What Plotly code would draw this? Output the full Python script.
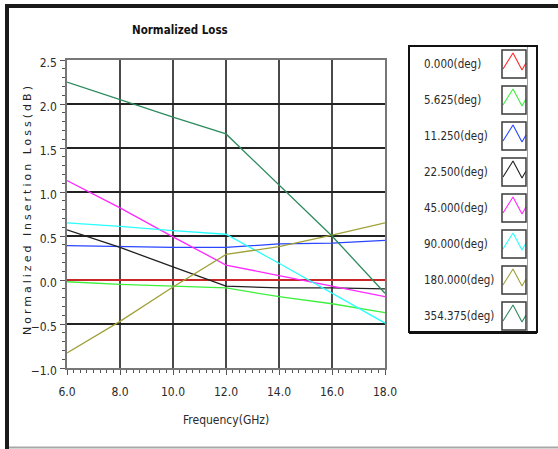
import plotly.graph_objects as go

# ---------------- data ----------------
freq_ghz = [6, 8, 10, 12, 14, 16, 18]

series_names = ["0.000(deg)", "5.625(deg)", "11.250(deg)", "22.500(deg)",
                "45.000(deg)", "90.000(deg)", "180.000(deg)", "354.375(deg)"]
series_colors = ["#ff2a2a", "#3cf03c", "#2846ff", "#202020",
                 "#ff28ff", "#28ffff", "#a0a038", "#2e8b5e"]

loss_0_000 = [0.00, 0.00, 0.00, 0.00, 0.00, 0.00, 0.00]
loss_5_625 = [-0.02, -0.05, -0.07, -0.09, -0.19, -0.27, -0.37]
loss_11_250 = [0.39, 0.38, 0.37, 0.37, 0.41, 0.42, 0.45]
loss_22_500 = [0.57, 0.37, 0.15, -0.07, -0.09, -0.09, -0.10]
loss_45_000 = [1.13, 0.82, 0.49, 0.17, 0.05, -0.07, -0.19]
loss_90_000 = [0.65, 0.61, 0.56, 0.52, 0.19, -0.15, -0.49]
loss_180_000 = [-0.83, -0.47, -0.08, 0.29, 0.38, 0.51, 0.65]
loss_354_375 = [2.25, 2.05, 1.85, 1.66, 1.08, 0.50, -0.15]

series_values = [loss_0_000, loss_5_625, loss_11_250, loss_22_500,
                 loss_45_000, loss_90_000, loss_180_000, loss_354_375]

x_tick_vals = [6, 8, 10, 12, 14, 16, 18]
y_tick_vals = [-1.0, -0.5, 0.0, 0.5, 1.0, 1.5, 2.0, 2.5]

# ---------------- layout constants ----------------
W, H = 558, 449
PX0, PX1 = 67, 385      # plot area left/right (px)
PY0, PY1 = 60, 368      # plot area top/bottom (px)
NARROW = "Liberation Sans Narrow, DejaVu Sans Condensed, Liberation Sans, Arial, sans-serif"
TXT = "#2a2a2a"

fig = go.Figure()

for name, vals, col in zip(series_names, series_values, series_colors):
    fig.add_trace(go.Scatter(x=freq_ghz, y=vals, mode="lines", name=name,
                             line=dict(color=col, width=1.3),
                             showlegend=False, hoverinfo="skip"))

# ---- custom legend drawn on a pixel overlay axis (x2/y2) ----
shapes = []
annotations = []
row0, row_step = 64, 36
for i, (name, col) in enumerate(zip(series_names, series_colors)):
    yc = row0 + row_step * i
    shapes.append(dict(type="rect", xref="x2", yref="y2", x0=502, x1=526,
                       y0=yc - 14, y1=yc + 14, line=dict(color="#3a3a3a", width=1.5),
                       fillcolor="rgba(0,0,0,0)"))
    fig.add_trace(go.Scatter(x=[503, 513, 522, 526],
                             y=[yc + 5, yc - 11, yc + 6, yc - 1],
                             mode="lines", line=dict(color=col, width=1.1),
                             xaxis="x2", yaxis="y2", showlegend=False,
                             hoverinfo="skip"))
    annotations.append(dict(xref="x2", yref="y2", x=422, y=yc, text=name,
                            showarrow=False, xanchor="left", yanchor="middle",
                            font=dict(family=NARROW, size=11.5, color=TXT)))

# legend frame
shapes += [
    dict(type="rect", xref="x2", yref="y2", x0=409, x1=537, y0=46, y1=332,
         line=dict(color="#111111", width=2)),
    dict(type="line", xref="x2", yref="y2", x0=409, x1=537, y0=332.5, y1=332.5,
         line=dict(color="#111111", width=3)),
    dict(type="line", xref="x2", yref="y2", x0=527.5, x1=527.5, y0=47, y1=331,
         line=dict(color="#9a9a9a", width=1)),
]
# outer window frame
shapes += [
    dict(type="line", xref="x2", yref="y2", x0=5, x1=558, y0=6, y1=6,
         line=dict(color="#1a1a1a", width=4)),
    dict(type="line", xref="x2", yref="y2", x0=7, x1=7, y0=4, y1=449,
         line=dict(color="#1a1a1a", width=4)),
    dict(type="line", xref="x2", yref="y2", x0=9, x1=558, y0=447.5, y1=447.5,
         line=dict(color="#a8a8a8", width=2)),
]

# titles
annotations += [
    dict(xref="x2", yref="y2", x=180, y=30, text="<b>Normalized Loss</b>",
         showarrow=False, xanchor="center", yanchor="middle",
         font=dict(family=NARROW, size=11.5, color="#111111")),
    dict(xref="x2", yref="y2", x=226, y=420, text="Frequency(GHz)",
         showarrow=False, xanchor="center", yanchor="middle",
         font=dict(family=NARROW, size=12, color=TXT)),
    dict(xref="x2", yref="y2", x=27, y=209,
         text='<span style="letter-spacing:3px">Normalized Insertion Loss(dB)</span>',
         showarrow=False, textangle=-90, xanchor="center", yanchor="middle",
         font=dict(family="DejaVu Sans, Verdana, sans-serif", size=11, color="#222222")),
]

fig.update_layout(
    width=W, height=H,
    margin=dict(l=0, r=0, t=0, b=0, pad=0),
    paper_bgcolor="white", plot_bgcolor="rgba(0,0,0,0)",
    template="none",
    showlegend=False,
    xaxis=dict(domain=[PX0 / W, PX1 / W], range=[6, 18], tickmode="array",
               tickvals=x_tick_vals, tickformat=".1f", ticks="outside",
               ticklen=5, tickwidth=1, tickcolor="#555555",
               minor=dict(dtick=0.25, tick0=6, ticks="outside", ticklen=3,
                          tickcolor="#555555", showgrid=False),
               showgrid=True, gridcolor="#4a4a4a", gridwidth=1.5,
               showline=True, linecolor="#777777", linewidth=1.5, mirror=True,
               zeroline=False, automargin=False, ticklabelstandoff=7,
               tickfont=dict(family=NARROW, size=12, color=TXT)),
    yaxis=dict(domain=[1 - PY1 / H, 1 - PY0 / H], range=[-1.0, 2.5],
               tickmode="array", tickvals=y_tick_vals, tickformat=".1f",
               ticks="outside", ticklen=5, tickwidth=1, tickcolor="#555555",
               minor=dict(dtick=0.1, tick0=0, ticks="outside", ticklen=3,
                          tickcolor="#555555", showgrid=False),
               showgrid=True, gridcolor="#222222", gridwidth=1.5,
               showline=True, linecolor="#777777", linewidth=1.5, mirror=True,
               zeroline=False, automargin=False, ticklabelstandoff=1,
               ticklabelshift=3,
               tickfont=dict(family=NARROW, size=12, color=TXT)),
    xaxis2=dict(domain=[0, 1], range=[0, W], visible=False, anchor="y2",
                fixedrange=True),
    yaxis2=dict(domain=[0, 1], range=[H, 0], visible=False, anchor="x2",
                fixedrange=True),
    shapes=shapes,
    annotations=annotations,
)

fig.write_html("out.html", config={"displayModeBar": False})
